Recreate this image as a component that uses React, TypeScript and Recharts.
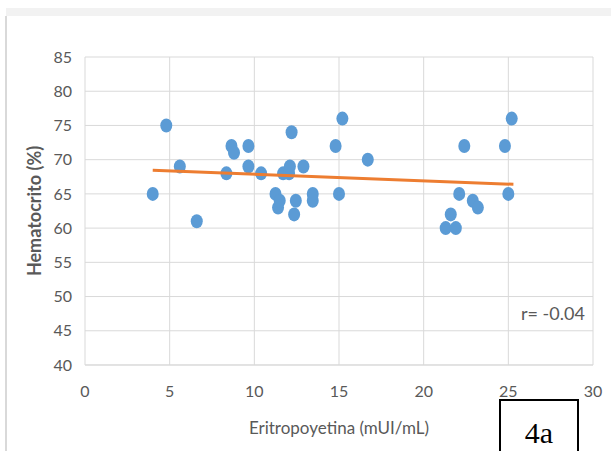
import React from "react";
import { ScatterChart, Scatter, XAxis, YAxis, CartesianGrid } from "recharts";

const epo = [4.0, 4.8, 5.6, 6.6, 8.35, 8.65, 8.8, 9.65, 9.65, 10.4, 11.25, 11.4, 11.5, 11.7, 12.05, 12.1, 12.2, 12.35, 12.45, 12.9, 13.45, 13.45, 14.8, 15.0, 15.2, 16.7, 21.3, 21.6, 21.9, 22.1, 22.4, 22.9, 23.2, 24.8, 25.0, 25.2];
const hto = [65, 75, 69, 61, 68, 72, 71, 72, 69, 68, 65, 63, 64, 68, 68, 69, 74, 62, 64, 69, 65, 64, 72, 65, 76, 70, 60, 62, 60, 65, 72, 64, 63, 72, 65, 76];

const trendX = [4.0, 25.3];
const trendY = [68.45, 66.4];

const xTicks = [0, 5, 10, 15, 20, 25, 30];
const yTicks = [40, 45, 50, 55, 60, 65, 70, 75, 80, 85];

const points = epo.map((x, i) => ({ x, y: hto[i] }));
const trend = trendX.map((x, i) => ({ x, y: trendY[i] }));

const font = "Lato, 'Open Sans', sans-serif";

export default function App() {
  return (
    <div style={{ position: "absolute", left: 0, top: 0, width: 611, height: 451, background: "#fff", overflow: "hidden" }}>
      <div style={{ position: "absolute", left: 6, top: 8, width: 605, height: 8, background: "#f2f2f2" }} />
      <div style={{ position: "absolute", left: 5, top: 16, width: 2, height: 435, background: "#d9d9d9" }} />
      <ScatterChart width={611} height={451} margin={{ top: 57, right: 18, left: 45, bottom: 56 }}>
        <CartesianGrid stroke="#d9d9d9" strokeWidth={1} />
        <XAxis
          type="number"
          dataKey="x"
          domain={[0, 30]}
          ticks={xTicks}
          tickLine={false}
          tickSize={0}
          tickMargin={21}
          axisLine={{ stroke: "#d9d9d9" }}
          height={30}
          tick={{ fill: "#595959", fontSize: 16, fontFamily: font }}
          label={{ value: "Eritropoyetina (mUI/mL)", position: "bottom", offset: 27, fill: "#595959", fontSize: 17, fontFamily: font }}
        />
        <YAxis
          type="number"
          dataKey="y"
          domain={[40, 85]}
          ticks={yTicks}
          tickLine={false}
          axisLine={false}
          tickSize={0}
          tickMargin={13}
          width={40}
          tick={{ fill: "#595959", fontSize: 16, fontFamily: font }}
          label={{ value: "Hematocrito (%)", angle: -90, position: "insideLeft", offset: -10, fill: "#595959", fontSize: 18, fontWeight: "bold", fontFamily: font, style: { textAnchor: "middle" } }}
        />
        <Scatter data={points} fill="#5b9bd5" isAnimationActive={false} shape={(p: any) => <ellipse cx={p.cx} cy={p.cy} rx={6} ry={7} fill="#5b9bd5" />} />
        <Scatter data={trend} line={{ stroke: "#ed7d31", strokeWidth: 3 }} shape={() => null} isAnimationActive={false} />
      </ScatterChart>
      <div style={{ position: "absolute", left: 521, top: 302, fontFamily: font, fontSize: 18, color: "#595959", lineHeight: "22px", whiteSpace: "nowrap" }}>r= -0.04</div>
      <div style={{ position: "absolute", left: 499, top: 399, width: 76, height: 60, border: "2px solid #000", background: "#fff", fontFamily: "'Liberation Serif', serif", fontSize: 30, textAlign: "center", lineHeight: "64px" }}>4a</div>
    </div>
  );
}
